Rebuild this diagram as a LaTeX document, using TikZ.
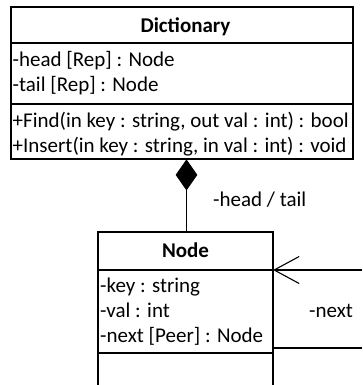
\documentclass[tikz,border=0pt]{standalone}
\usepackage{fontspec}
\setmainfont{Carlito}
\usetikzlibrary{shapes.geometric,arrows.meta}
\begin{document}
\begin{tikzpicture}[x=1pt,y=-1pt,
  classbox/.style={draw,line width=1.6pt,inner sep=0pt,outer sep=0pt,anchor=north west},
  divider/.style={line width=1.6pt},
  member/.style={anchor=base west,inner sep=0pt,font=\fontsize{21}{25}\selectfont},
  title/.style={anchor=base,inner sep=0pt,font=\fontsize{21}{25}\selectfont\bfseries},
  lbl/.style={anchor=base west,inner sep=0pt,font=\fontsize{21}{25}\selectfont},
  link/.style={line width=1.1pt}]
\useasboundingbox (0,0) rectangle (362,385);
\clip (0,0) rectangle (362,385);

% Dictionary class
\node[classbox,minimum width=342pt,minimum height=152pt] (dict) at (11,7) {};
\draw[divider] (dict.west |- 0,43) -- (dict.east |- 0,43);
\draw[divider] (dict.west |- 0,104) -- (dict.east |- 0,104);
\node[title] (dictname) at (185.5,32.5) {Dictionary};
\node[member] (dhead) at (12.5,66.5) {-head [Rep] : Node};
\node[member] (dtail) at (12.5,92) {-tail [Rep] : Node};
\node[member] (dfind) at (12.5,127.5) {+Find(in key : string, out val : int) : bool};
\node[member] (dins) at (12.5,152.5) {+Insert(in key : string, in val : int) : void};

% Node class (runs on below the page edge)
\node[classbox,minimum width=175pt,minimum height=170pt] (nodecls) at (98,232) {};
\draw[divider] (nodecls.west |- 0,270) -- (nodecls.east |- 0,270);
\draw[divider] (nodecls.west |- 0,353) -- (nodecls.east |- 0,353);
\node[title] (nodename) at (185.5,257.5) {Node};
\node[member] (nkey) at (100,292) {-key : string};
\node[member] (nval) at (100,317) {-val : int};
\node[member] (nnext) at (100,342) {-next [Peer] : Node};

% composition: Dictionary owns head / tail nodes
\node[diamond,fill=black,draw,line width=0.8pt,inner sep=0pt,minimum width=21pt,minimum height=30pt,anchor=north] (comp) at (186.5,159.5) {};
\draw[link] (comp.south) -- (comp.south |- nodecls.north);
\node[lbl] (headtail) at (213,206) {-head / tail};

% self association through next
\coordinate (selfin) at (362,270);
\coordinate (selfout) at (362,348);
\draw[link] (selfout) -- (selfout -| nodecls.east);
\draw[link,-{Straight Barb[length=25pt,width=27pt,line width=1.1pt]}] (selfin) -- (selfin -| nodecls.east);
\node[lbl] (nextlbl) at (309,317) {-next};
\end{tikzpicture}
\end{document}
